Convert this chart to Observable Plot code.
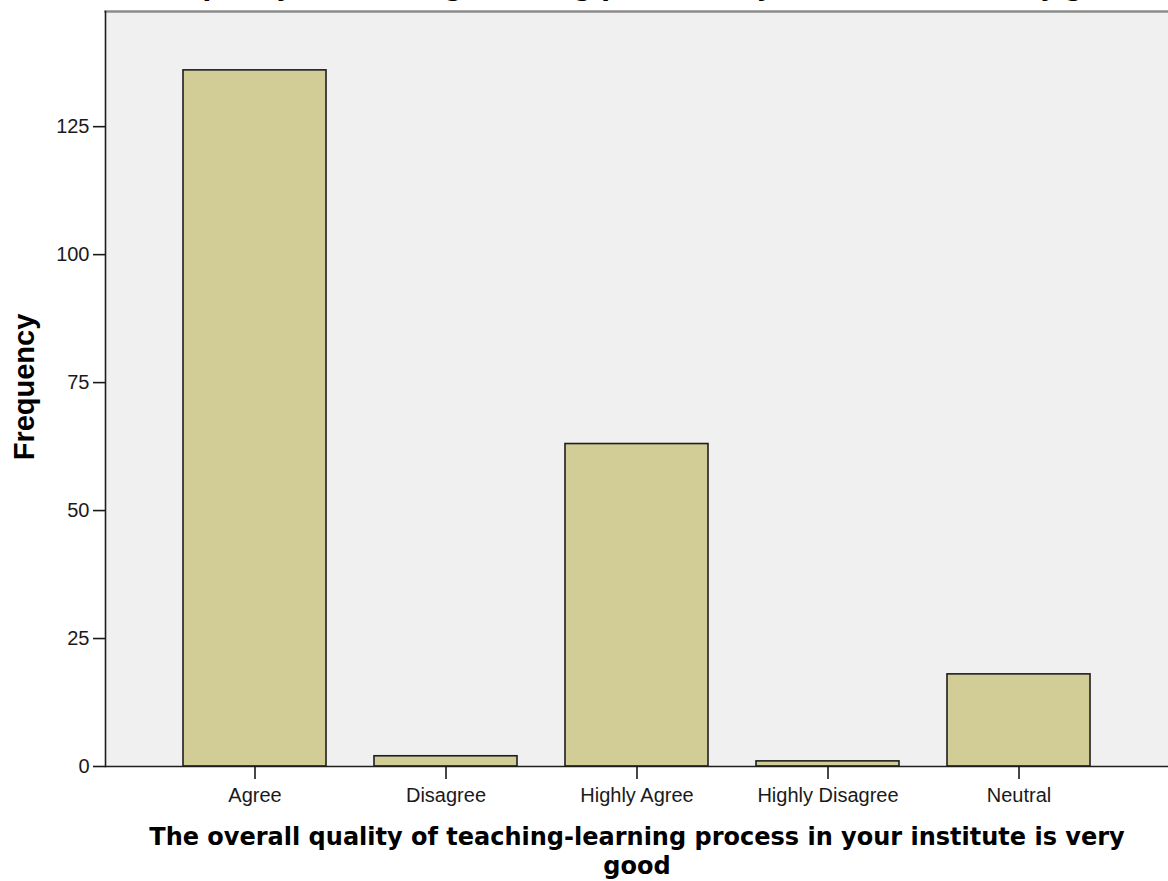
<!DOCTYPE html>
<html><head><meta charset="utf-8">
<script src="https://cdn.jsdelivr.net/npm/d3@7"></script>
<script src="https://cdn.jsdelivr.net/npm/@observablehq/plot@0.6"></script>
<style>body{margin:0;background:#fff}</style>
</head><body><div id="chart"></div>
<script>
const categories = ["Agree", "Disagree", "Highly Agree", "Highly Disagree", "Neutral"];
const frequencies = [136, 2, 63, 1, 18];
const yTicks = [0, 25, 50, 75, 100, 125];
const xTitle = "The overall quality of teaching-learning process in your institute is very\ngood";
const topTitle = "The overall quality of teaching-learning process in your institute is very good";
const yTitle = "Frequency";

const data = categories.map((c, i) => ({category: c, frequency: frequencies[i]}));

const chart = Plot.plot({
  width: 1168,
  height: 881,
  marginTop: 11,
  marginBottom: 115,
  marginLeft: 105,
  marginRight: 0,
  style: {fontFamily: "'Liberation Sans', Arial, sans-serif", background: "#fff", color: "#1a1a1a"},
  x: {domain: categories, paddingInner: 0.25, paddingOuter: 0.395, label: null},
  y: {domain: [0, 147.5], label: null},
  marks: [
    Plot.frame({fill: "#f0f0f0", stroke: null}),
    Plot.frame({anchor: "top", stroke: "#8c8c8c", strokeWidth: 2.5}),
    Plot.barY(data, {x: "category", y: "frequency", fill: "#d2cd97", stroke: "#1e1e1e", strokeWidth: 1.6}),
    Plot.ruleY([0], {stroke: "#1e1e1e", strokeWidth: 1.6}),
    Plot.frame({anchor: "left", stroke: "#1e1e1e", strokeWidth: 1.6}),
    Plot.axisY({ticks: yTicks, tickSize: 12, tickPadding: 4, fontSize: 20, strokeWidth: 1.6, label: null}),
    Plot.axisX({tickSize: 13, tickPadding: 8, fontSize: 20, strokeWidth: 1.6, label: null}),
    Plot.text([xTitle], {text: d => d, frameAnchor: "bottom", dy: 58, lineAnchor: "top", lineHeight: 1.21,
      fontFamily: "DejaVu Sans", fontWeight: "bold", fontSize: 24, fill: "#000"}),
    Plot.text([yTitle], {text: d => d, frameAnchor: "left", textAnchor: "middle", lineAnchor: "middle", rotate: -90, dx: -81, dy: -2,
      fontFamily: "'Liberation Sans', Arial, sans-serif", fontWeight: "bold", fontSize: 29, fill: "#000"}),
    Plot.text([topTitle], {text: d => d, frameAnchor: "top-left", textAnchor: "start", lineAnchor: "bottom", dx: -81, dy: -16,
      fontFamily: "DejaVu Sans", fontWeight: "bold", fontSize: 25.4, fill: "#000"})
  ]
});
document.getElementById("chart").appendChild(chart);
</script>
</body></html>
